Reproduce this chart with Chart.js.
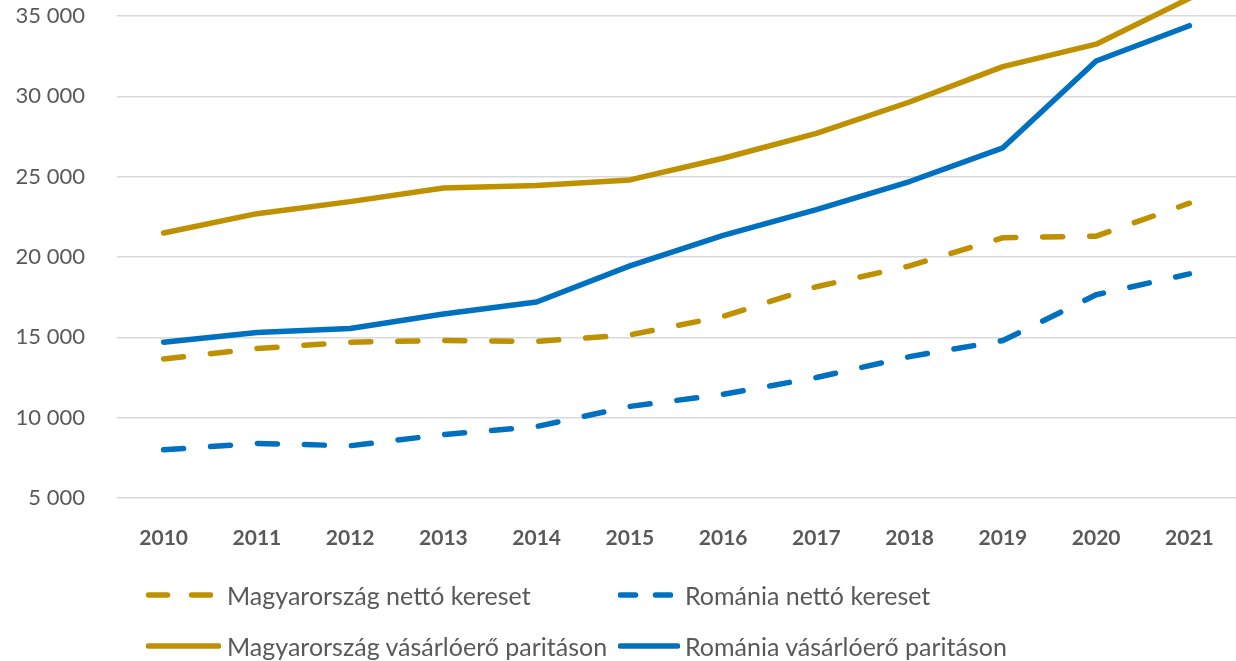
<!DOCTYPE html>
<html lang="hu">
<head>
<meta charset="utf-8">
<title>Nettó kereset és vásárlóerő-paritás, 2010–2021</title>
<script src="https://cdn.jsdelivr.net/npm/chart.js@4/dist/chart.umd.min.js"></script>
<style>
    html, body { margin: 0; padding: 0; background: #fff; }
    #wrap {
        position: relative; width: 1236px; height: 661px; overflow: hidden;
        font-family: Lato, "Open Sans", sans-serif;
    }
    #chart { position: absolute; left: 0; top: 0; }
    .lg-item {
        position: absolute; height: 30px; margin-top: -15px;
        display: flex; align-items: center;
        color: #595959; font-size: 25px; white-space: nowrap;
    }
    .lg-item svg { display: block; flex: none; }
</style>
</head>
<body>
<div id="wrap">
    <canvas id="chart" width="1236" height="661"></canvas>
    <div id="legend"></div>
</div>

<script>
// --- 1. DATA ---
const years = ['2010', '2011', '2012', '2013', '2014', '2015', '2016', '2017', '2018', '2019', '2020', '2021'];

const huNet = [13650, 14300, 14700, 14800, 14750, 15150, 16300, 18150, 19450, 21200, 21300, 23350];
const roNet = [8000, 8400, 8250, 8950, 9450, 10700, 11450, 12500, 13800, 14800, 17650, 18950];
const huPpp = [21500, 22700, 23450, 24300, 24450, 24800, 26150, 27700, 29650, 31850, 33250, 36100];
const roPpp = [14700, 15300, 15550, 16450, 17200, 19450, 21350, 22950, 24700, 26800, 32200, 34400];

const seriesLabels = [
    'Magyarország nettó kereset',
    'Románia nettó kereset',
    'Magyarország vásárlóerő paritáson',
    'Románia vásárlóerő paritáson'
];

const yTicks = [5000, 10000, 15000, 20000, 25000, 30000, 35000];
const yMin = 5000;
const yMax = 36000;   // the top of the picture is cut just above 35 000


// --- 2. STYLE ---
const GOLD = '#BF9000';
const BLUE = '#0070C0';
const TEXT = '#595959';
const DASH = [20, 27];

// "35 000" style, space as thousands separator
function fmt(v) {
    return String(v).replace(/\B(?=(\d{3})+(?!\d))/g, ' ');
}

function lineSet(label, values, color, dashed) {
    return {
        label: label,
        data: values,
        borderColor: color,
        backgroundColor: color,
        borderWidth: 5.5,
        borderDash: dashed ? DASH : [],
        borderCapStyle: 'round',
        borderJoinStyle: 'round',
        pointRadius: 0,
        pointHoverRadius: 0,
        tension: 0,
        fill: false
    };
}


// --- 3. CHART ---
const datasets = [
    lineSet(seriesLabels[0], huNet, GOLD, true),
    lineSet(seriesLabels[1], roNet, BLUE, true),
    lineSet(seriesLabels[2], huPpp, GOLD, false),
    lineSet(seriesLabels[3], roPpp, BLUE, false)
];

new Chart(document.getElementById('chart').getContext('2d'), {
    type: 'line',
    data: { labels: years, datasets: datasets },
    options: {
        responsive: false,
        animation: false,
        layout: { padding: 0 },
        plugins: {
            legend: { display: false },
            tooltip: { enabled: false }
        },
        scales: {
            x: {
                offset: true,
                grid: { display: false, drawTicks: false },
                border: { display: false },
                ticks: {
                    color: TEXT,
                    font: { family: 'Lato', size: 21, weight: 'bold' },
                    padding: 28,
                    maxRotation: 0,
                    autoSkip: false
                },
                afterFit: s => { s.height = 163; s.paddingLeft = 0; s.paddingRight = 0; }
            },
            y: {
                min: yMin,
                max: yMax,
                afterBuildTicks: s => { s.ticks = yTicks.map(v => ({ value: v })); },
                grid: { color: '#D9D9D9', lineWidth: 1.5, drawTicks: false },
                border: { display: false },
                ticks: {
                    color: TEXT,
                    font: { family: 'Lato', size: 22 },
                    padding: 32,
                    callback: v => fmt(v)
                },
                afterFit: s => { s.width = 117; s.paddingTop = 0; s.paddingBottom = 0; }
            }
        }
    }
});


// --- 4. LEGEND (two fixed columns, like the original) ---
const legendSlots = [
    { x: 146, y: 595, w: 67, text: 227 },
    { x: 618, y: 595, w: 55, text: 685 },
    { x: 146, y: 646, w: 75, text: 227 },
    { x: 618, y: 646, w: 62, text: 685 }
];

function sampleSvg(color, dashed, w) {
    let lines;
    if (dashed) {
        const d = Math.round(w * 0.36), g = w - 2 * d;
        lines = `<line x1="2.5" y1="15" x2="${d - 2.5}" y2="15"/>` +
                `<line x1="${d + g + 2.5}" y1="15" x2="${w - 2.5}" y2="15"/>`;
    } else {
        lines = `<line x1="2.5" y1="15" x2="${w - 2.5}" y2="15"/>`;
    }
    return `<svg width="${w}" height="30"><g stroke="${color}" stroke-width="5.5" stroke-linecap="round">${lines}</g></svg>`;
}

const legendBox = document.getElementById('legend');
datasets.forEach((ds, i) => {
    const slot = legendSlots[i];
    const dashed = ds.borderDash.length > 0;
    const item = document.createElement('div');
    item.className = 'lg-item';
    item.style.left = slot.x + 'px';
    item.style.top = slot.y + 'px';
    item.innerHTML = sampleSvg(ds.borderColor, dashed, slot.w) +
        `<span style="margin-left:${slot.text - slot.x - slot.w}px">${ds.label}</span>`;
    legendBox.appendChild(item);
});
</script>
</body>
</html>
